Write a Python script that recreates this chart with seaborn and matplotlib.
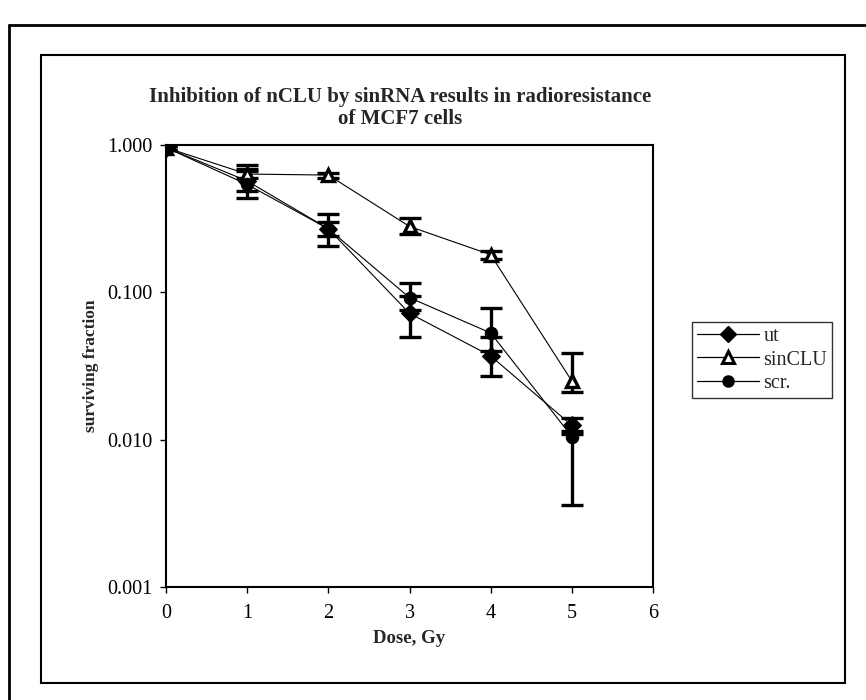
import matplotlib
matplotlib.use("Agg")
import matplotlib.pyplot as plt
import matplotlib.patches as patches
from matplotlib.ticker import FixedLocator, NullLocator
import pandas as pd
import seaborn as sns

dose = [0, 1, 2, 3, 4, 5]

ut = [0.96, 0.57, 0.27, 0.072, 0.037, 0.0125]
ut_low = [0.93, 0.49, 0.205, 0.050, 0.027, 0.011]
ut_high = [0.99, 0.69, 0.34, 0.094, 0.050, 0.014]

sinclu = [0.96, 0.635, 0.625, 0.28, 0.18, 0.025]
sinclu_low = [0.93, 0.60, 0.60, 0.25, 0.168, 0.021]
sinclu_high = [0.99, 0.67, 0.65, 0.32, 0.19, 0.039]

scr = [0.96, 0.54, 0.27, 0.092, 0.053, 0.0105]
scr_low = [0.93, 0.44, 0.24, 0.076, 0.040, 0.0036]
scr_high = [0.99, 0.73, 0.30, 0.115, 0.078, 0.0115]

series_names = ["ut", "sinCLU", "scr."]


def build_frame():
    rows = []
    for name, vals, lo, hi in [("ut", ut, ut_low, ut_high),
                               ("sinCLU", sinclu, sinclu_low, sinclu_high),
                               ("scr.", scr, scr_low, scr_high)]:
        for d, v, l, h in zip(dose, vals, lo, hi):
            rows.append({"dose": d, "fraction": v, "low": l, "high": h, "group": name})
    return pd.DataFrame(rows)


def main():
    sns.set_style("ticks")
    plt.rcParams["font.family"] = ["Liberation Serif", "DejaVu Serif"]

    df = build_frame()

    fig = plt.figure(figsize=(8.66, 7.0), dpi=100)
    ax = fig.add_axes([166 / 866, 1 - 587 / 700, (653 - 166) / 866, (587 - 145) / 700])

    # error bars first so markers sit on top
    for name in series_names:
        sub = df[df["group"] == name]
        ax.errorbar(sub["dose"], sub["fraction"],
                    yerr=[sub["fraction"] - sub["low"], sub["high"] - sub["fraction"]],
                    fmt="none", ecolor="black", elinewidth=2.4, capsize=8, capthick=2.4,
                    zorder=2)

    sns.lineplot(data=df, x="dose", y="fraction", hue="group", style="group",
                 hue_order=series_names, style_order=series_names,
                 palette=["black", "black", "black"],
                 markers={"ut": "D", "sinCLU": "^", "scr.": "o"},
                 dashes=False, linewidth=0.8, ax=ax, legend=False, zorder=3)

    # marker styling per series
    for line, name in zip(ax.get_lines()[-3:], series_names):
        line.set_markeredgecolor("black")
        line.set_markersize(9)
        if name == "sinCLU":
            line.set_markerfacecolor("white")
            line.set_markeredgewidth(2.4)
        else:
            line.set_markerfacecolor("black")

    ax.set_yscale("log")
    ax.set_ylim(0.001, 1.0)
    ax.set_xlim(0, 6)
    ax.yaxis.set_major_locator(FixedLocator([0.001, 0.01, 0.1, 1.0]))
    ax.yaxis.set_minor_locator(NullLocator())
    ax.set_yticklabels(["0.001", "0.010", "0.100", "1.000"])
    ax.set_xticks(dose + [6])
    ax.tick_params(axis="both", labelsize=14.5, direction="out", length=4, width=1,
                   colors="black")
    ax.tick_params(axis="x", pad=8)
    ax.tick_params(axis="y", pad=6)
    for sp in ax.spines.values():
        sp.set_visible(True)
        sp.set_linewidth(1.5)
        sp.set_color("black")

    ax.set_xlabel("Dose, Gy", fontsize=13.5, fontweight="bold", labelpad=5)
    ax.set_ylabel("surviving fraction", fontsize=12.5, fontweight="bold", labelpad=6)

    fig.text(0.462, 1 - 97 / 700, "Inhibition of nCLU by sinRNA results in radioresistance",
             ha="center", va="center", fontsize=15, fontweight="bold")
    fig.text(0.462, 1 - 119 / 700, "of MCF7 cells",
             ha="center", va="center", fontsize=15, fontweight="bold")

    # legend outside on the right
    handles = []
    for name in series_names:
        if name == "ut":
            h = plt.Line2D([], [], color="black", lw=0.9, marker="D", markersize=8,
                           markerfacecolor="black", markeredgecolor="black")
        elif name == "sinCLU":
            h = plt.Line2D([], [], color="black", lw=0.9, marker="^", markersize=8,
                           markerfacecolor="white", markeredgecolor="black", markeredgewidth=2.2)
        else:
            h = plt.Line2D([], [], color="black", lw=0.9, marker="o", markersize=8,
                           markerfacecolor="black", markeredgecolor="black")
        handles.append(h)
    leg = fig.legend(handles, series_names, loc="center left",
                     bbox_to_anchor=(692 / 866, 1 - 360 / 700), fontsize=14.5,
                     frameon=True, fancybox=False, edgecolor="black",
                     handlelength=3.1, handletextpad=0.2, borderpad=0.25,
                     labelspacing=0.2, borderaxespad=0)
    leg.get_frame().set_linewidth(1.0)

    # scanned page frames
    fig.add_artist(patches.Rectangle((41 / 866, 1 - 683 / 700), (845 - 41) / 866, (683 - 55) / 700,
                                     transform=fig.transFigure, fill=False,
                                     edgecolor="black", linewidth=1.5))
    fig.add_artist(plt.Line2D([9 / 866, 9 / 866], [0, 1 - 25 / 700], transform=fig.transFigure,
                              color="black", lw=2))
    fig.add_artist(plt.Line2D([9 / 866, 1], [1 - 25 / 700, 1 - 25 / 700],
                              transform=fig.transFigure, color="black", lw=2))

    fig.savefig("out.png", dpi=100)


if __name__ == "__main__":
    main()
